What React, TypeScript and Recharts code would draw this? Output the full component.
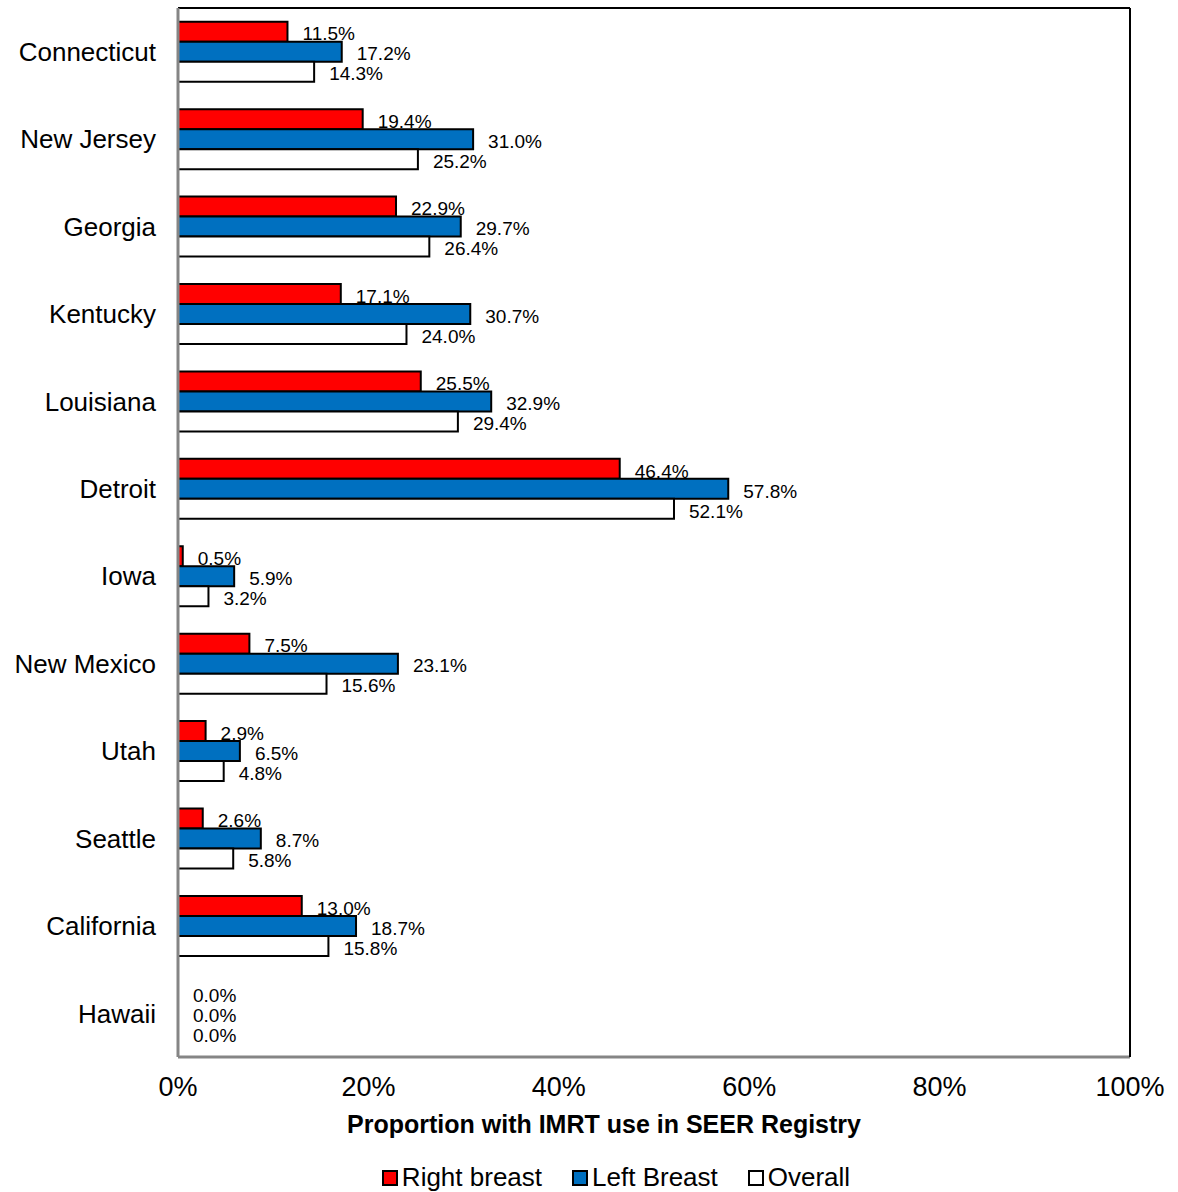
import { BarChart, Bar, XAxis, YAxis, LabelList, Legend, Cell } from 'recharts'

const registries = [
  'Connecticut', 'New Jersey', 'Georgia', 'Kentucky', 'Louisiana', 'Detroit',
  'Iowa', 'New Mexico', 'Utah', 'Seattle', 'California', 'Hawaii',
]
const rightBreast = [11.5, 19.4, 22.9, 17.1, 25.5, 46.4, 0.5, 7.5, 2.9, 2.6, 13.0, 0]
const leftBreast = [17.2, 31.0, 29.7, 30.7, 32.9, 57.8, 5.9, 23.1, 6.5, 8.7, 18.7, 0]
const overall = [14.3, 25.2, 26.4, 24.0, 29.4, 52.1, 3.2, 15.6, 4.8, 5.8, 15.8, 0]
const xTicks = [0, 20, 40, 60, 80, 100]

const series = [
  { key: 'right', name: 'Right breast', fill: '#ff0000', values: rightBreast },
  { key: 'left', name: 'Left Breast', fill: '#0070c0', values: leftBreast },
  { key: 'overall', name: 'Overall', fill: '#ffffff', values: overall },
]

const data = registries.map((state, i) => ({
  state,
  right: rightBreast[i],
  left: leftBreast[i],
  overall: overall[i],
}))

const sans = "'Liberation Sans', Arial, sans-serif"

const ValueLabel = (props: any) => {
  const { x, y, width, height, value } = props
  return (
    <text
      x={x + width + 15}
      y={y + height / 2 + 2}
      dy="0.355em"
      fontSize={19}
      fontFamily={sans}
      fill="#000"
    >
      {Number(value).toFixed(1) + '%'}
    </text>
  )
}

const AxisTitle = (props: any) => {
  const vb = props.viewBox
  return (
    <text
      x={vb.x + vb.width / 2 - 50}
      y={vb.y + 76}
      textAnchor="middle"
      fontSize={25}
      fontWeight="bold"
      fontFamily={sans}
      fill="#000"
    >
      Proportion with IMRT use in SEER Registry
    </text>
  )
}

const LegendBox = () => (
  <div
    style={{
      display: 'flex',
      justifyContent: 'center',
      gap: 30,
      fontFamily: sans,
      fontSize: 26,
      color: '#000',
      paddingLeft: 54,
    }}
  >
    {series.map((s) => (
      <span key={s.key} style={{ display: 'flex', alignItems: 'center' }}>
        <span
          style={{
            width: 12,
            height: 12,
            background: s.fill,
            border: '2px solid #000',
            marginRight: 4,
          }}
        />
        {s.name}
      </span>
    ))}
  </div>
)

export default function App() {
  return (
    <div style={{ position: 'absolute', left: 0, top: 0 }}>
      <BarChart
        width={1178}
        height={1192}
        data={data}
        layout="vertical"
        margin={{ top: 7, right: 47, bottom: 0, left: 0 }}
        barCategoryGap="15.7%"
        barGap={0}
      >
        <XAxis
          type="number"
          domain={[0, 100]}
          ticks={xTicks}
          tickFormatter={(v: number) => v + '%'}
          tickLine={false}
          tickSize={0}
          tickMargin={20}
          height={135}
          axisLine={{ stroke: '#858585', strokeWidth: 3 }}
          tick={{ fontSize: 27, fontFamily: sans, fill: '#000' }}
          label={<AxisTitle />}
        />
        <XAxis
          xAxisId="top"
          type="number"
          orientation="top"
          domain={[0, 100]}
          tick={false}
          tickLine={false}
          height={1}
          axisLine={{ stroke: '#000', strokeWidth: 2 }}
        />
        <YAxis
          type="category"
          dataKey="state"
          width={178}
          tickLine={false}
          tickSize={0}
          tickMargin={22}
          interval={0}
          axisLine={{ stroke: '#858585', strokeWidth: 3 }}
          tick={{ fontSize: 26, fontFamily: sans, fill: '#000' }}
        />
        <YAxis
          yAxisId="right"
          type="category"
          dataKey="state"
          orientation="right"
          width={1}
          tick={false}
          tickLine={false}
          axisLine={{ stroke: '#000', strokeWidth: 2 }}
        />
        <Legend
          verticalAlign="middle"
          layout="horizontal"
          wrapperStyle={{ top: 1162, left: 0, width: 1178 }}
          content={<LegendBox />}
        />
        {series.map((s) => (
          <Bar
            key={s.key}
            dataKey={s.key}
            name={s.name}
            fill={s.fill}
            stroke="#000"
            strokeWidth={2}
            minPointSize={0.01}
            isAnimationActive={false}
          >
            {s.values.map((v, i) => (
              <Cell key={i} stroke={v === 0 ? 'none' : '#000'} />
            ))}
            <LabelList dataKey={s.key} content={<ValueLabel />} />
          </Bar>
        ))}
      </BarChart>
    </div>
  )
}
